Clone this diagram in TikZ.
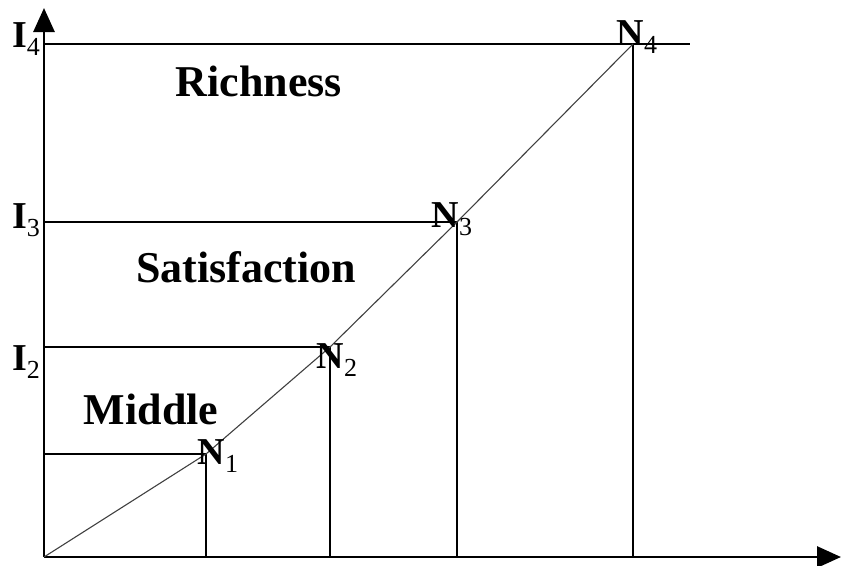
\documentclass[tikz,border=0pt]{standalone}
\usepackage{fontspec}
\setmainfont{Liberation Serif}
\usetikzlibrary{arrows.meta}
\newcommand{\sublbl}[2]{{\bfseries #1}\raisebox{-.2em}{\fontsize{26}{26}\selectfont #2}}
\tikzset{
  axisline/.style={line width=2.8pt,-{Triangle[length=24pt,width=21pt]}},
  guide/.style={line width=1.4pt},
  curveline/.style={line width=1.1pt,black!75},
  region/.style={font=\fontsize{44}{44}\selectfont\bfseries,inner sep=0pt},
  ptlabel/.style={font=\fontsize{38}{38}\selectfont,inner sep=0pt},
}

\begin{document}
\begin{tikzpicture}[x=1pt,y=-1pt]
  \useasboundingbox (0,0) rectangle (842,565);

  % axes
  \coordinate (O) at (44,557);
  \coordinate (ytop) at (44,8);
  \coordinate (xend) at (841,557);
  \draw[axisline] (O) -- (ytop);
  \draw[axisline] (O) -- (xend);

  % points on the curve
  \coordinate (p1) at (206,454);
  \coordinate (p2) at (330,347);
  \coordinate (p3) at (457,222);
  \coordinate (p4) at (633,44);

  % feet on the axes
  \coordinate (y1) at (44,454);
  \coordinate (y2) at (44,347);
  \coordinate (y3) at (44,222);
  \coordinate (y4) at (44,44);
  \coordinate (y4end) at (690,44);
  \coordinate (x1) at (206,557);
  \coordinate (x2) at (330,557);
  \coordinate (x3) at (457,557);
  \coordinate (x4) at (633,557);

  \draw[guide] (y1) -- (p1) -- (x1);
  \draw[guide] (y2) -- (p2) -- (x2);
  \draw[guide] (y3) -- (p3) -- (x3);
  \draw[guide] (y4) -- (y4end);
  \draw[guide] (p4) -- (x4);

  \draw[curveline] (O) -- (p1) -- (p2) -- (p3) -- (p4);

  % labels
  \node[ptlabel] (I4) at (26,39) {\sublbl{I}{4}};
  \node[ptlabel] (I3) at (26,220) {\sublbl{I}{3}};
  \node[ptlabel] (I2) at (26,362) {\sublbl{I}{2}};
  \node[ptlabel] (N1) at (218,456) {\sublbl{N}{1}};
  \node[ptlabel] (N2) at (337,360) {\sublbl{N}{2}};
  \node[ptlabel] (N3) at (452,219) {\sublbl{N}{3}};
  \node[ptlabel] (N4) at (637,37) {\sublbl{N}{4}};

  \node[region] (rich) at (259,81) {Richness};
  \node[region] (sat) at (246,267) {Satisfaction};
  \node[region] (mid) at (151,409) {Middle};
\end{tikzpicture}
\end{document}
